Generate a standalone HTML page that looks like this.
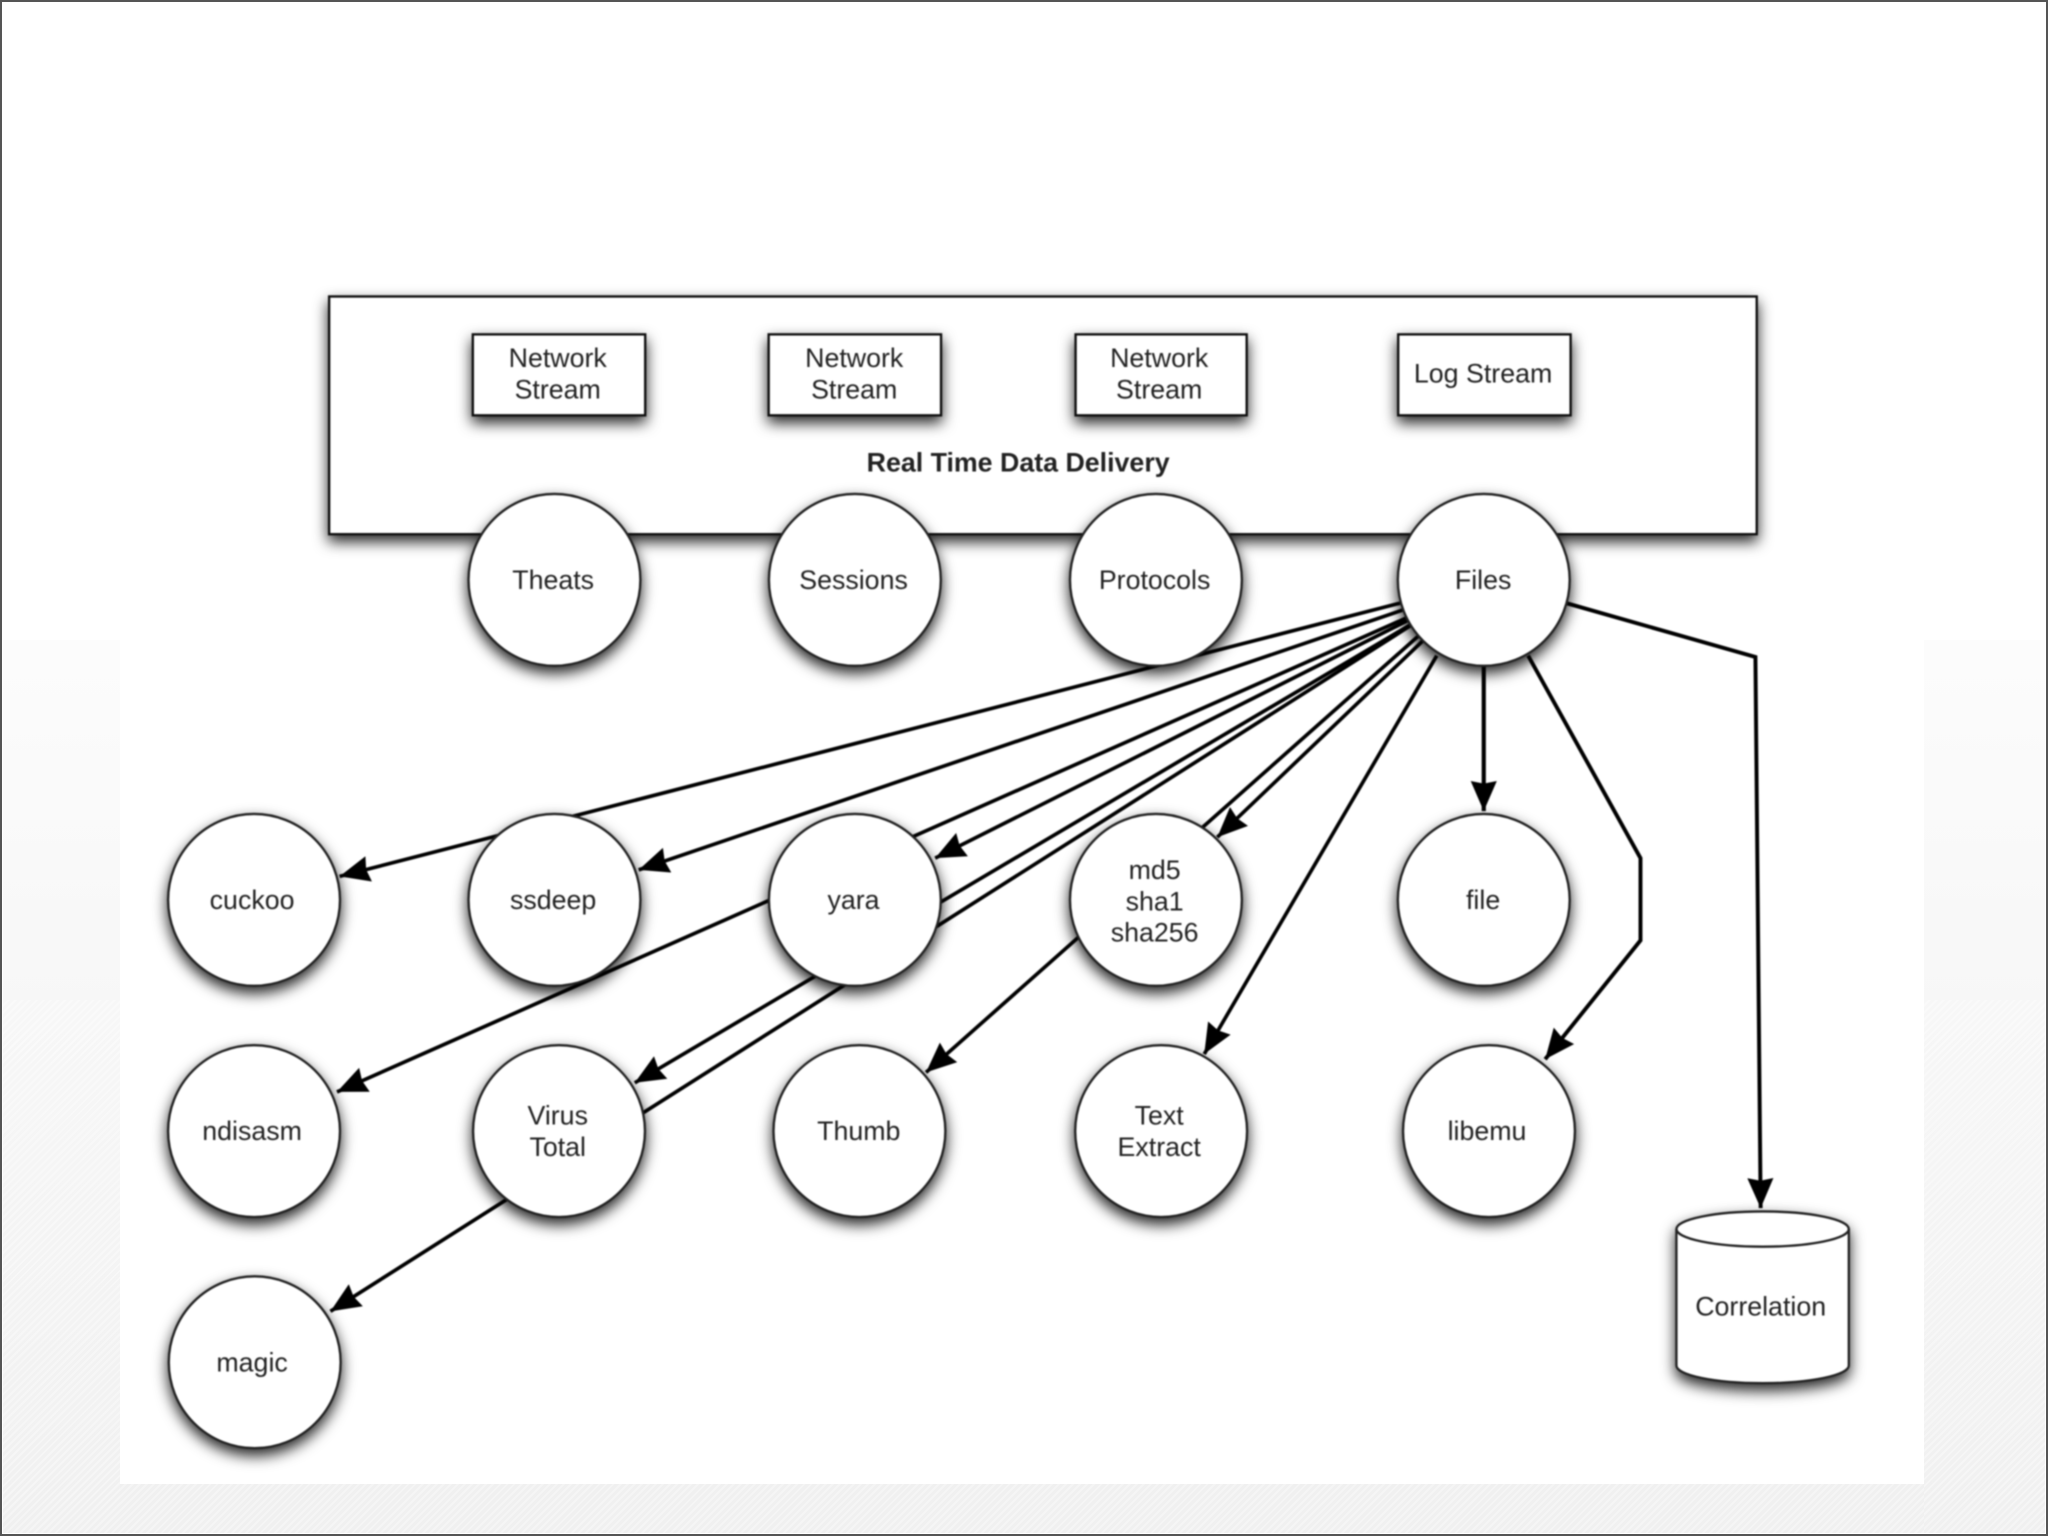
<!DOCTYPE html>
<html><head><meta charset="utf-8"><style>
html,body{margin:0;padding:0;width:2048px;height:1536px;overflow:hidden;background:#fff}
#bg{position:absolute;left:0;top:0;width:2048px;height:1536px;background:#fff}
.g{position:absolute;background:linear-gradient(#fcfcfc,#f0f0f0)}
.s{position:absolute;background:repeating-linear-gradient(135deg,rgba(255,255,255,0) 0 3px,rgba(255,255,255,.35) 3px 5px)}
#frame{position:absolute;left:0;top:0;width:2044px;height:1532px;border:2px solid #555}
svg{position:absolute;left:0;top:0;filter:blur(.75px)}
text{font-family:"Liberation Sans",sans-serif;font-size:20.5px;fill:#222;text-anchor:middle}
</style></head><body>
<div id="bg"></div>
<div class="g" style="left:3px;top:640px;width:117px;height:893px"></div>
<div class="g" style="left:1924px;top:640px;width:121px;height:893px"></div>
<div style="position:absolute;left:120px;top:1484px;width:1804px;height:49px;background:#f0f0f0"></div>
<div class="s" style="left:3px;top:1000px;width:117px;height:533px"></div>
<div class="s" style="left:1924px;top:1000px;width:121px;height:533px"></div>
<div class="s" style="left:120px;top:1484px;width:1804px;height:49px"></div>
<div id="frame"></div>
<svg width="2048" height="1536" viewBox="0 0 1568 1176" xmlns="http://www.w3.org/2000/svg">
<defs>
<filter id="sh" x="-30%" y="-30%" width="160%" height="160%"><feDropShadow dx="0" dy="5" stdDeviation="5.500" flood-color="#000" flood-opacity=".85"/></filter>
<marker id="a" markerUnits="userSpaceOnUse" markerWidth="24" markerHeight="20" refX="23" refY="10" orient="auto"><path d="M0 0L23 10L0 20L2 10Z" fill="#000"/></marker>
</defs>
<rect x="252" y="227" width="1093" height="182" fill="#fff" stroke="#111" stroke-width="1.800" filter="url(#sh)"/>
<g fill="#fff" stroke="#111" stroke-width="1.800" filter="url(#sh)">
<rect x="362" y="256" width="132" height="62"/>
<rect x="588.500" y="256" width="132" height="62"/>
<rect x="823.500" y="256" width="131" height="62"/>
<rect x="1070.500" y="256" width="132" height="62"/>
</g>
<g fill="none" stroke="#000" stroke-width="2.800">
<line x1="1075" y1="461" x2="260" y2="671" marker-end="url(#a)"/>
<line x1="1077" y1="466" x2="489" y2="666" marker-end="url(#a)"/>
<line x1="1080" y1="474" x2="716" y2="657" marker-end="url(#a)"/>
<line x1="1077" y1="473" x2="258" y2="836" marker-end="url(#a)"/>
<line x1="1082" y1="477" x2="486" y2="829" marker-end="url(#a)"/>
<line x1="1080" y1="479" x2="253" y2="1004" marker-end="url(#a)"/>
<line x1="1087" y1="486" x2="709" y2="821" marker-end="url(#a)"/>
<line x1="1090" y1="490" x2="932" y2="641" marker-end="url(#a)"/>
<line x1="1100" y1="502" x2="922" y2="807" marker-end="url(#a)"/>
<line x1="1136" y1="510" x2="1136" y2="621" marker-end="url(#a)" stroke-width="3.200"/>
<polyline points="1170,502 1256,657 1256,720 1183,811" marker-end="url(#a)" stroke-width="3"/>
<polyline points="1200,462 1344,503 1348,925" marker-end="url(#a)" stroke-width="3"/>
</g>
<g fill="#fff" stroke="#222" stroke-width="1.800" filter="url(#sh)">
<circle cx="424.500" cy="444" r="65.800"/>
<circle cx="654.500" cy="444" r="65.800"/>
<circle cx="885" cy="444" r="65.800"/>
<circle cx="1136" cy="444" r="65.800"/>
<circle cx="194.500" cy="689" r="65.800"/>
<circle cx="424.500" cy="689" r="65.800"/>
<circle cx="654.500" cy="689" r="65.800"/>
<circle cx="885" cy="689" r="65.800"/>
<circle cx="1136" cy="689" r="65.800"/>
<circle cx="194.500" cy="866" r="65.800"/>
<circle cx="428" cy="866" r="65.800"/>
<circle cx="658" cy="866" r="65.800"/>
<circle cx="889" cy="866" r="65.800"/>
<circle cx="1140" cy="866" r="65.800"/>
<circle cx="195" cy="1043" r="65.800"/>
<path d="M1283.500 941A66 13.500 0 0 1 1415.500 941V1045.500A66 13.500 0 0 1 1283.500 1045.500Z"/>
</g>
<path d="M1283.500 941A66 13.500 0 0 0 1415.500 941" fill="none" stroke="#222" stroke-width="1.800"/>
<text x="427" y="281">Network</text><text x="427" y="305">Stream</text>
<text x="654" y="281">Network</text><text x="654" y="305">Stream</text>
<text x="887.500" y="281">Network</text><text x="887.500" y="305">Stream</text>
<text x="1135.500" y="293">Log Stream</text>
<text x="779.500" y="361" font-weight="bold" style="font-weight:bold">Real Time Data Delivery</text>
<text x="423.500" y="451">Theats</text>
<text x="653.500" y="451">Sessions</text>
<text x="884" y="451">Protocols</text>
<text x="1135.500" y="451">Files</text>
<text x="193" y="696">cuckoo</text>
<text x="423.500" y="696">ssdeep</text>
<text x="653.500" y="696">yara</text>
<text x="884" y="673">md5</text><text x="884" y="697">sha1</text><text x="884" y="721">sha256</text>
<text x="1135.500" y="696">file</text>
<text x="193" y="873">ndisasm</text>
<text x="427" y="861">Virus</text><text x="427" y="885">Total</text>
<text x="657.500" y="873">Thumb</text>
<text x="887.500" y="861">Text</text><text x="887.500" y="885">Extract</text>
<text x="1138.500" y="873">libemu</text>
<text x="193" y="1050">magic</text>
<text x="1348" y="1007">Correlation</text>
</svg>
</body></html>
